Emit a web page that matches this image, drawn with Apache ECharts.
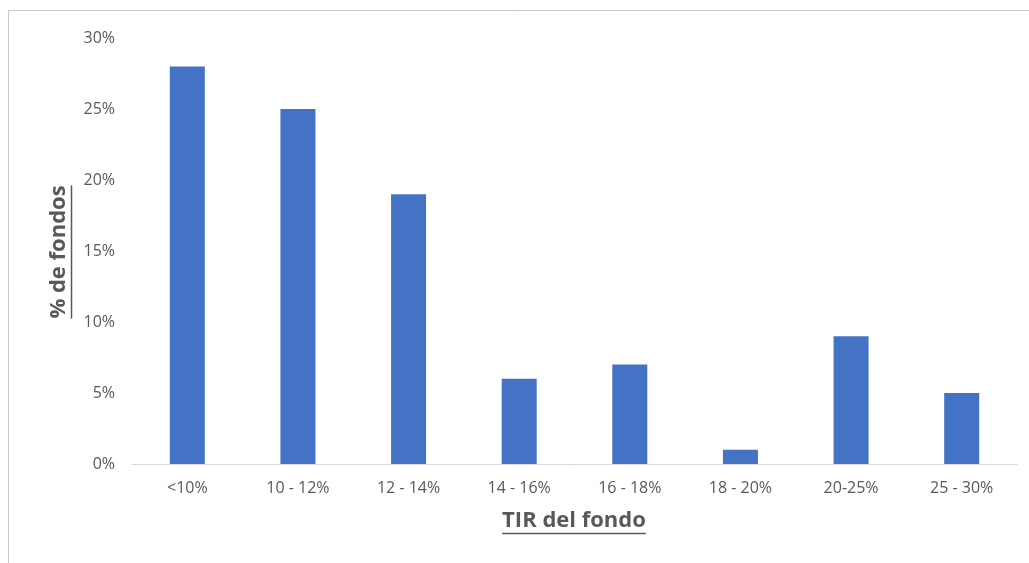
<!DOCTYPE html>
<html>
<head>
<meta charset="utf-8">
<script src="https://cdn.jsdelivr.net/npm/echarts@6/dist/echarts.min.js"></script>
<style>
  html, body { margin: 0; padding: 0; background: #fff; }
  #chart { width: 1029px; height: 563px; }
</style>
</head>
<body>
<div id="chart"></div>
<script>
const categories = ['<10%', '10 - 12%', '12 - 14%', '14 - 16%', '16 - 18%', '18 - 20%', '20-25%', '25 - 30%']
const shareOfFunds = [28, 25, 19, 6, 7, 1, 9, 5]
const xTitle = 'TIR del fondo'
const yTitle = '% de fondos'

const textColor = '#595959'
const fontFamily = '"Open Sans", sans-serif'
const titleFont = 'bold 22px ' + fontFamily

// underline length follows the rendered text width
const ctx = document.createElement('canvas').getContext('2d')
ctx.font = titleFont
const xTitleWidth = ctx.measureText(xTitle).width
const yTitleWidth = ctx.measureText(yTitle).width

const chart = echarts.init(document.getElementById('chart'))

chart.setOption({
  animation: false,
  grid: { left: 132, right: 12, top: 38, bottom: 99 },
  xAxis: {
    type: 'category',
    data: categories,
    axisTick: { show: false },
    axisLine: { lineStyle: { color: '#d9d9d9', width: 1 } },
    axisLabel: { color: textColor, fontFamily, fontSize: 16, margin: 16 }
  },
  yAxis: {
    type: 'value',
    min: 0,
    max: 30,
    interval: 5,
    splitLine: { show: false },
    axisLine: { show: false },
    axisTick: { show: false },
    axisLabel: { color: textColor, fontFamily, fontSize: 16, margin: 17, formatter: '{value}%' }
  },
  series: [{
    type: 'bar',
    data: shareOfFunds,
    barWidth: 35,
    itemStyle: { color: '#4472C4' }
  }],
  graphic: [
    {
      type: 'rect',
      shape: { x: 8.5, y: 10.5, width: 1100, height: 700 },
      style: { fill: 'none', stroke: '#c8c8c8', lineWidth: 1 },
      silent: true
    },
    {
      type: 'group',
      x: 574,
      y: 521,
      children: [
        {
          type: 'text',
          style: { text: xTitle, fill: textColor, font: titleFont, align: 'center', verticalAlign: 'middle' }
        },
        {
          type: 'line',
          shape: { x1: -xTitleWidth / 2, y1: 12.5, x2: xTitleWidth / 2, y2: 12.5 },
          style: { stroke: textColor, lineWidth: 1.5 }
        }
      ]
    },
    {
      type: 'group',
      x: 59,
      y: 252,
      rotation: Math.PI / 2,
      children: [
        {
          type: 'text',
          style: { text: yTitle, fill: textColor, font: titleFont, align: 'center', verticalAlign: 'middle' }
        },
        {
          type: 'line',
          shape: { x1: -yTitleWidth / 2, y1: 12.5, x2: yTitleWidth / 2, y2: 12.5 },
          style: { stroke: textColor, lineWidth: 1.5 }
        }
      ]
    }
  ]
})
</script>
</body>
</html>
